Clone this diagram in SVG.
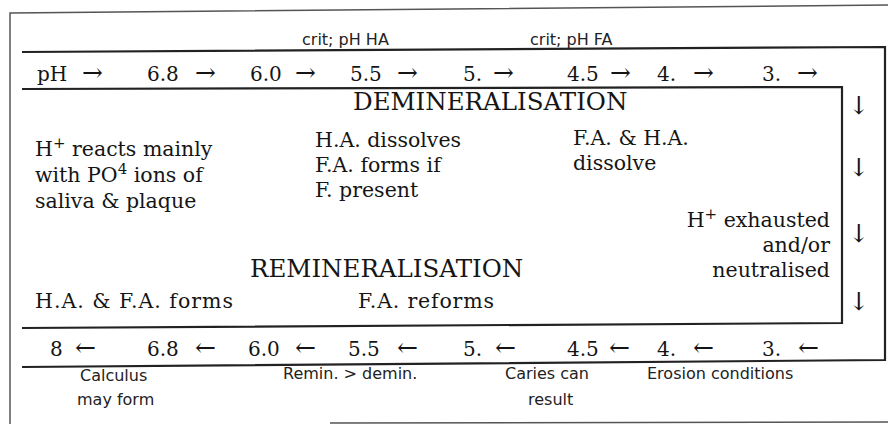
<svg xmlns="http://www.w3.org/2000/svg" width="888" height="424" viewBox="0 0 888 424">
<style>
.frame{fill:none;stroke:#555;stroke-width:1.5}
.band{fill:none;stroke:#222;stroke-width:2.2}
.t{font-family:"DejaVu Serif","Liberation Serif",serif;font-size:20.5px;fill:#151515}
.n{font-family:"DejaVu Serif","Liberation Serif",serif;font-size:20px;fill:#151515}
.ar{font-family:"DejaVu Serif","DejaVu Sans",serif;font-size:25px;fill:#151515}
.h{font-family:"DejaVu Serif","Liberation Serif",serif;font-size:24.5px;fill:#151515}
.s{font-family:"DejaVu Sans","Liberation Sans",sans-serif;font-size:16px;fill:#222}
.r{text-anchor:end}
</style>
<rect width="888" height="424" fill="#fff"/>
<g id="connectors">
  <path class="frame" d="M10,424 L10,13 L888,5"/>
  <path class="frame" d="M330,423 L888,422"/>
  <path class="band" d="M22,52 L885,47 L885,360 L22,367"/>
  <path class="band" d="M22,89 L842,87 L842,323 L22,328"/>
</g>
<g id="critical-labels">
  <text class="s" x="302" y="45">crit; pH HA</text>
  <text class="s" x="530" y="45">crit; pH FA</text>
</g>
<g id="ph-falling">
  <text class="n" x="37" y="81">pH</text><text class="ar" x="82" y="81">→</text>
  <text class="n" x="147" y="81">6.8</text><text class="ar" x="195" y="81">→</text>
  <text class="n" x="250" y="81">6.0</text><text class="ar" x="295" y="81">→</text>
  <text class="n" x="350" y="81">5.5</text><text class="ar" x="397" y="81">→</text>
  <text class="n" x="463" y="81">5.</text><text class="ar" x="493" y="81">→</text>
  <text class="n" x="567" y="81">4.5</text><text class="ar" x="610" y="81">→</text>
  <text class="n" x="657" y="81">4.</text><text class="ar" x="693" y="81">→</text>
  <text class="n" x="762" y="81">3.</text><text class="ar" x="797" y="81">→</text>
</g>
<g id="down-arrows">
  <text class="ar" x="859" y="114" text-anchor="middle">↓</text>
  <text class="ar" x="859" y="176" text-anchor="middle">↓</text>
  <text class="ar" x="859" y="242" text-anchor="middle">↓</text>
  <text class="ar" x="859" y="310" text-anchor="middle">↓</text>
</g>
<g id="demineralisation">
  <text class="h" x="353" y="110">DEMINERALISATION</text>
  <text class="t" x="35" y="156">H<tspan font-size="15" dy="-8">+</tspan><tspan dy="8"> reacts mainly</tspan></text>
  <text class="t" x="35" y="182">with PO<tspan font-size="15" dy="-8">4</tspan><tspan dy="8"> ions of</tspan></text>
  <text class="t" x="35" y="208">saliva &amp; plaque</text>
  <text class="t" x="315" y="147">H.A. dissolves</text>
  <text class="t" x="315" y="172">F.A. forms if</text>
  <text class="t" x="315" y="197">F. present</text>
  <text class="t" x="573" y="145">F.A. &amp; H.A.</text>
  <text class="t" x="573" y="170">dissolve</text>
  <text class="t r" x="830" y="227">H<tspan font-size="15" dy="-8">+</tspan><tspan dy="8"> exhausted</tspan></text>
  <text class="t r" x="830" y="252">and/or</text>
  <text class="t r" x="830" y="277">neutralised</text>
</g>
<g id="remineralisation">
  <text class="h" x="250" y="277">REMINERALISATION</text>
  <text class="t" x="35" y="308" textLength="198">H.A. &amp; F.A. forms</text>
  <text class="t" x="358" y="308" textLength="136">F.A. reforms</text>
</g>
<g id="ph-rising">
  <text class="n" x="50" y="356">8</text><text class="ar" x="75" y="356">←</text>
  <text class="n" x="147" y="356">6.8</text><text class="ar" x="195" y="356">←</text>
  <text class="n" x="248" y="356">6.0</text><text class="ar" x="295" y="356">←</text>
  <text class="n" x="348" y="356">5.5</text><text class="ar" x="397" y="356">←</text>
  <text class="n" x="463" y="356">5.</text><text class="ar" x="495" y="356">←</text>
  <text class="n" x="567" y="356">4.5</text><text class="ar" x="609" y="356">←</text>
  <text class="n" x="657" y="356">4.</text><text class="ar" x="693" y="356">←</text>
  <text class="n" x="762" y="356">3.</text><text class="ar" x="798" y="356">←</text>
</g>
<g id="outcomes">
  <text class="s" x="80" y="381">Calculus</text>
  <text class="s" x="77" y="405">may form</text>
  <text class="s" x="283" y="379">Remin. &gt; demin.</text>
  <text class="s" x="505" y="379">Caries can</text>
  <text class="s" x="528" y="405">result</text>
  <text class="s" x="647" y="379">Erosion conditions</text>
</g>
</svg>
